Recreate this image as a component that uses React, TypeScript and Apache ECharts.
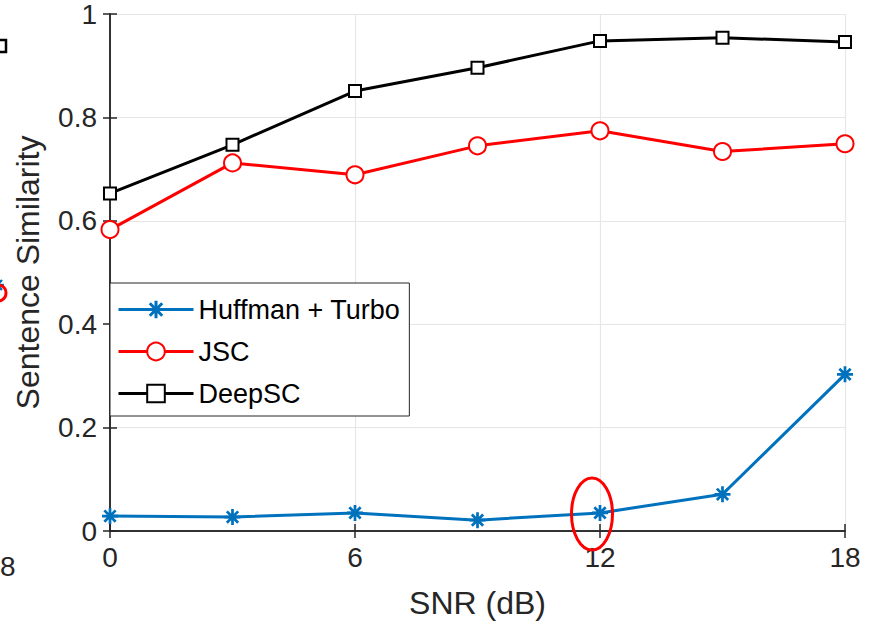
import React, { useEffect, useRef } from "react";
import * as echarts from "echarts";

const snr = [0, 3, 6, 9, 12, 15, 18];
const huffmanTurbo = [0.029, 0.027, 0.035, 0.021, 0.035, 0.071, 0.303];
const jsc = [0.583, 0.712, 0.689, 0.745, 0.774, 0.734, 0.749];
const deepSC = [0.653, 0.747, 0.851, 0.896, 0.948, 0.954, 0.946];
const seriesNames = ["Huffman + Turbo", "JSC", "DeepSC"];

const FONT = '"Liberation Sans", Arial, Helvetica, sans-serif';
const AX = "#262626";

const STAR =
  "path://M-1.2,-7 L1.2,-7 L1.2,7 L-1.2,7 Z M-7,-1.2 L7,-1.2 L7,1.2 L-7,1.2 Z M4.1,5.8 L-5.8,-4.1 L-4.1,-5.8 L5.8,4.1 Z M-4.1,5.8 L-5.8,4.1 L4.1,-5.8 L5.8,-4.1 Z";

const pairs = (ys: number[]) => snr.map((x, i) => [x, ys[i]]);

export default function App() {
  const ref = useRef<HTMLDivElement>(null);
  useEffect(() => {
    if (!ref.current) return;
    const chart = echarts.init(ref.current, null, { renderer: "svg" });
    const axisLine = { show: true, lineStyle: { color: AX, width: 1.5 } };
    const tick = { show: true, inside: true, length: 7, lineStyle: { color: AX, width: 1.5 } };
    chart.setOption({
      animation: false,
      backgroundColor: "#ffffff",
      grid: { left: 110, right: 28, top: 13, bottom: 93, containLabel: false },
      legend: {
        orient: "vertical",
        left: 110,
        top: 283,
        backgroundColor: "#ffffff",
        borderColor: AX,
        borderWidth: 1,
        borderRadius: 0,
        padding: [13, 9, 9, 7],
        itemWidth: 75,
        itemHeight: 22,
        itemGap: 15,
        data: seriesNames,
        lineStyle: { width: 3 },
        textStyle: { fontFamily: FONT, fontSize: 27, color: "#000000" },
      },
      xAxis: [
        {
          type: "value",
          min: 0,
          max: 18,
          interval: 6,
          name: "SNR (dB)",
          nameLocation: "middle",
          nameGap: 56,
          nameTextStyle: { fontFamily: FONT, fontSize: 32, color: AX },
          axisLine,
          axisTick: tick,
          axisLabel: { fontFamily: FONT, fontSize: 28, color: AX, margin: 12 },
          splitLine: { show: true, lineStyle: { color: "#e6e6e6", width: 1.2 } },
        },
        {
          type: "value",
          position: "top",
          min: 0,
          max: 18,
          interval: 6,
          axisLine,
          axisTick: tick,
          axisLabel: { show: false },
          splitLine: { show: false },
        },
      ],
      yAxis: [
        {
          type: "value",
          min: 0,
          max: 1,
          interval: 0.2,
          name: "Sentence Similarity",
          nameLocation: "middle",
          nameGap: 66,
          nameTextStyle: { fontFamily: FONT, fontSize: 32, color: AX },
          axisLine,
          axisTick: tick,
          axisLabel: { fontFamily: FONT, fontSize: 28, color: AX, margin: 13 },
          splitLine: { show: true, lineStyle: { color: "#e6e6e6", width: 1.2 } },
        },
        {
          type: "value",
          position: "right",
          min: 0,
          max: 1,
          interval: 0.2,
          axisLine,
          axisTick: tick,
          axisLabel: { show: false },
          splitLine: { show: false },
        },
      ],
      series: [
        {
          name: seriesNames[0],
          type: "line",
          data: pairs(huffmanTurbo),
          symbol: STAR,
          symbolSize: 16,
          showAllSymbol: true,
          lineStyle: { color: "#0072BD", width: 3 },
          itemStyle: { color: "#0072BD", borderWidth: 0 },
          z: 3,
        },
        {
          name: seriesNames[1],
          type: "line",
          data: pairs(jsc),
          symbol: "emptyCircle",
          symbolSize: 17,
          lineStyle: { color: "#FF0000", width: 3 },
          itemStyle: { color: "#FF0000", borderColor: "#FF0000", borderWidth: 3 },
          z: 4,
        },
        {
          name: seriesNames[2],
          type: "line",
          data: pairs(deepSC),
          symbol: "emptyRect",
          symbolSize: 12,
          lineStyle: { color: "#000000", width: 3 },
          itemStyle: { color: "#000000", borderColor: "#000000", borderWidth: 2.5 },
          z: 5,
        },
      ],
      graphic: [
        {
          type: "ellipse",
          shape: { cx: 592, cy: 514, rx: 20.5, ry: 36 },
          style: { fill: "none", stroke: "#FF0000", lineWidth: 3 },
          z: 100,
        },
        {
          type: "rect",
          shape: { x: -6, y: 40, width: 12, height: 12 },
          style: { fill: "none", stroke: "#000000", lineWidth: 2.5 },
          z: 100,
        },
        {
          type: "circle",
          shape: { cx: -2, cy: 293, r: 8 },
          style: { fill: "none", stroke: "#FF0000", lineWidth: 3 },
          z: 100,
        },
        {
          type: "group",
          x: -3,
          y: 285,
          z: 101,
          children: [
            { type: "line", shape: { x1: -7, y1: 0, x2: 7, y2: 0 }, style: { stroke: "#0072BD", lineWidth: 2.4 } },
            { type: "line", shape: { x1: 0, y1: -7, x2: 0, y2: 7 }, style: { stroke: "#0072BD", lineWidth: 2.4 } },
            { type: "line", shape: { x1: -5, y1: -5, x2: 5, y2: 5 }, style: { stroke: "#0072BD", lineWidth: 2.4 } },
            { type: "line", shape: { x1: -5, y1: 5, x2: 5, y2: -5 }, style: { stroke: "#0072BD", lineWidth: 2.4 } },
          ],
        },
        {
          type: "text",
          x: 0,
          y: 566,
          style: {
            text: "8",
            fontFamily: FONT,
            fontSize: 28,
            fill: AX,
            align: "left",
            verticalAlign: "middle",
          },
          z: 100,
        },
      ],
    });
    return () => chart.dispose();
  }, []);
  return (
    <div
      ref={ref}
      style={{ position: "fixed", left: 0, top: 0, width: 873, height: 624, background: "#fff" }}
    />
  );
}
